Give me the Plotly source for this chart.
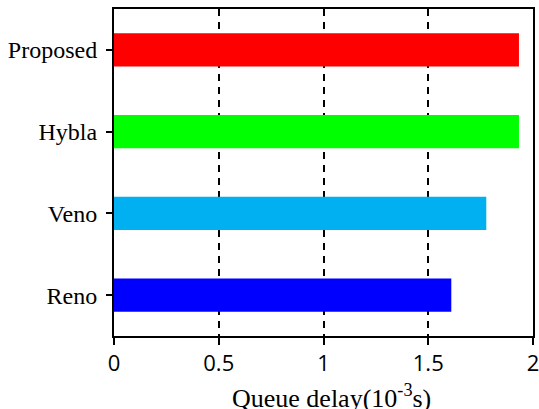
import plotly.graph_objects as go

categories = ["Reno", "Veno", "Hybla", "Proposed"]
values = [1.61, 1.777, 1.933, 1.933]
colors = ["#0000FF", "#00B0F0", "#00FF00", "#FF0000"]
x_ticks = [0, 0.5, 1, 1.5, 2]
x_tick_labels = ["0", "0.5", "1", "1.5", "2"]

fig = go.Figure(go.Bar(
    y=categories, x=values, orientation="h",
    marker=dict(color=colors, line=dict(width=0)),
    width=0.405,
))

fig.update_layout(
    width=539, height=409,
    margin=dict(l=114, r=6, t=9, b=73),
    paper_bgcolor="white", plot_bgcolor="white",
    showlegend=False,
    xaxis=dict(
        range=[0, 2], tickvals=x_ticks, ticktext=x_tick_labels,
        automargin=False, ticklabeloverflow="allow",
        showline=True, linecolor="black", linewidth=2, mirror=True,
        ticks="outside", ticklen=7, tickwidth=2, tickcolor="black",
        showgrid=True, gridcolor="black", gridwidth=1.5, griddash="7px,6px",
        zeroline=False,
        tickfont=dict(family="Open Sans", size=22, color="black"),
    ),
    yaxis=dict(
        range=[-0.5, 3.5], automargin=False,
        showline=True, linecolor="black", linewidth=2, mirror=True,
        ticks="outside", ticklen=6, tickwidth=2, tickcolor="black",
        showgrid=False, zeroline=False,
        tickfont=dict(family="Liberation Serif", size=24, color="black"),
        ticklabelstandoff=4,
    ),
    annotations=[dict(
        text="Queue delay(10<sup>-3</sup>s)", xref="paper", yref="paper",
        x=0.52, y=-0.128, xanchor="center", yanchor="top", showarrow=False,
        font=dict(family="Liberation Serif", size=26, color="black"),
    )],
)

fig.write_html("out.html", config={"displayModeBar": False},
               post_script="document.body.style.margin='0';")
